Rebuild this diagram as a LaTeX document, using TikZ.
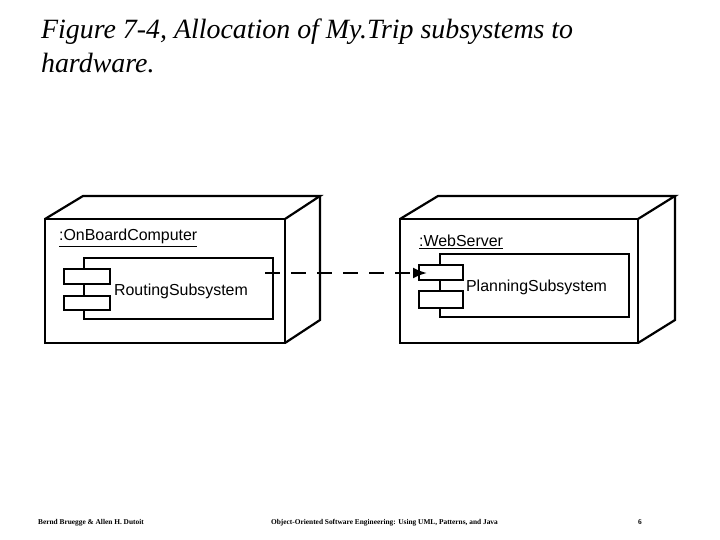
\documentclass[tikz,border=0pt]{standalone}
\usepackage{fontspec}
\setmainfont{Liberation Serif}
\setsansfont{Liberation Sans}
\usetikzlibrary{arrows.meta}
\begin{document}
\begin{tikzpicture}[x=1bp,y=-1bp,line width=2.2bp,
  lbl/.style={font=\sffamily\fontsize{16}{16}\selectfont,inner sep=0pt,anchor=base west},
  foot/.style={font=\fontsize{7.4}{7.4}\selectfont\bfseries,inner sep=0pt,anchor=base west}]
\useasboundingbox (0,0) rectangle (720,540);
\node[anchor=base west,inner sep=0pt,font=\fontsize{28}{28}\selectfont\itshape] (t1) at (40,39) {Figure 7-4, Allocation of My.Trip subsystems to};
\node[anchor=base west,inner sep=0pt,font=\fontsize{28}{28}\selectfont\itshape] (t2) at (40,73) {hardware.};
% left node
\draw (45,219) rectangle (285,343);
\draw (45,219) -- (83,196) -- (320,196) -- (285,219);
\draw (320,196) -- (320,320) -- (285,343);
\node[lbl] (onb) at (58,241) {\underline{:OnBoardComputer}};
\draw (84,258) rectangle (273,319);
\draw[fill=white] (64,269) rectangle (110,284);
\draw[fill=white] (64,296) rectangle (110,310);
\node[lbl] (rs) at (113,295) {RoutingSubsystem};
% right node
\draw (400,219) rectangle (638,343);
\draw (400,219) -- (438,196) -- (675,196) -- (638,219);
\draw (675,196) -- (675,320) -- (638,343);
\node[lbl] (ws) at (418,247) {\underline{:WebServer}};
\draw (440,254) rectangle (629,317);
\draw[fill=white] (419,265) rectangle (463,280);
\draw[fill=white] (419,291) rectangle (463,308);
\node[lbl] (ps) at (465,291) {PlanningSubsystem};
\coordinate (a) at (265,273);
\coordinate (b) at (427,273);
\draw[dash pattern=on 15bp off 11bp,-{Latex[length=14bp,width=11bp]}] (a) -- (b);
\node[foot] (f1) at (37,524) {Bernd Bruegge \& Allen H. Dutoit};
\node[foot] (f2) at (270,524) {Object-Oriented Software Engineering: Using UML, Patterns, and Java};
\node[foot] (f3) at (637,524) {6};
\end{tikzpicture}
\end{document}
